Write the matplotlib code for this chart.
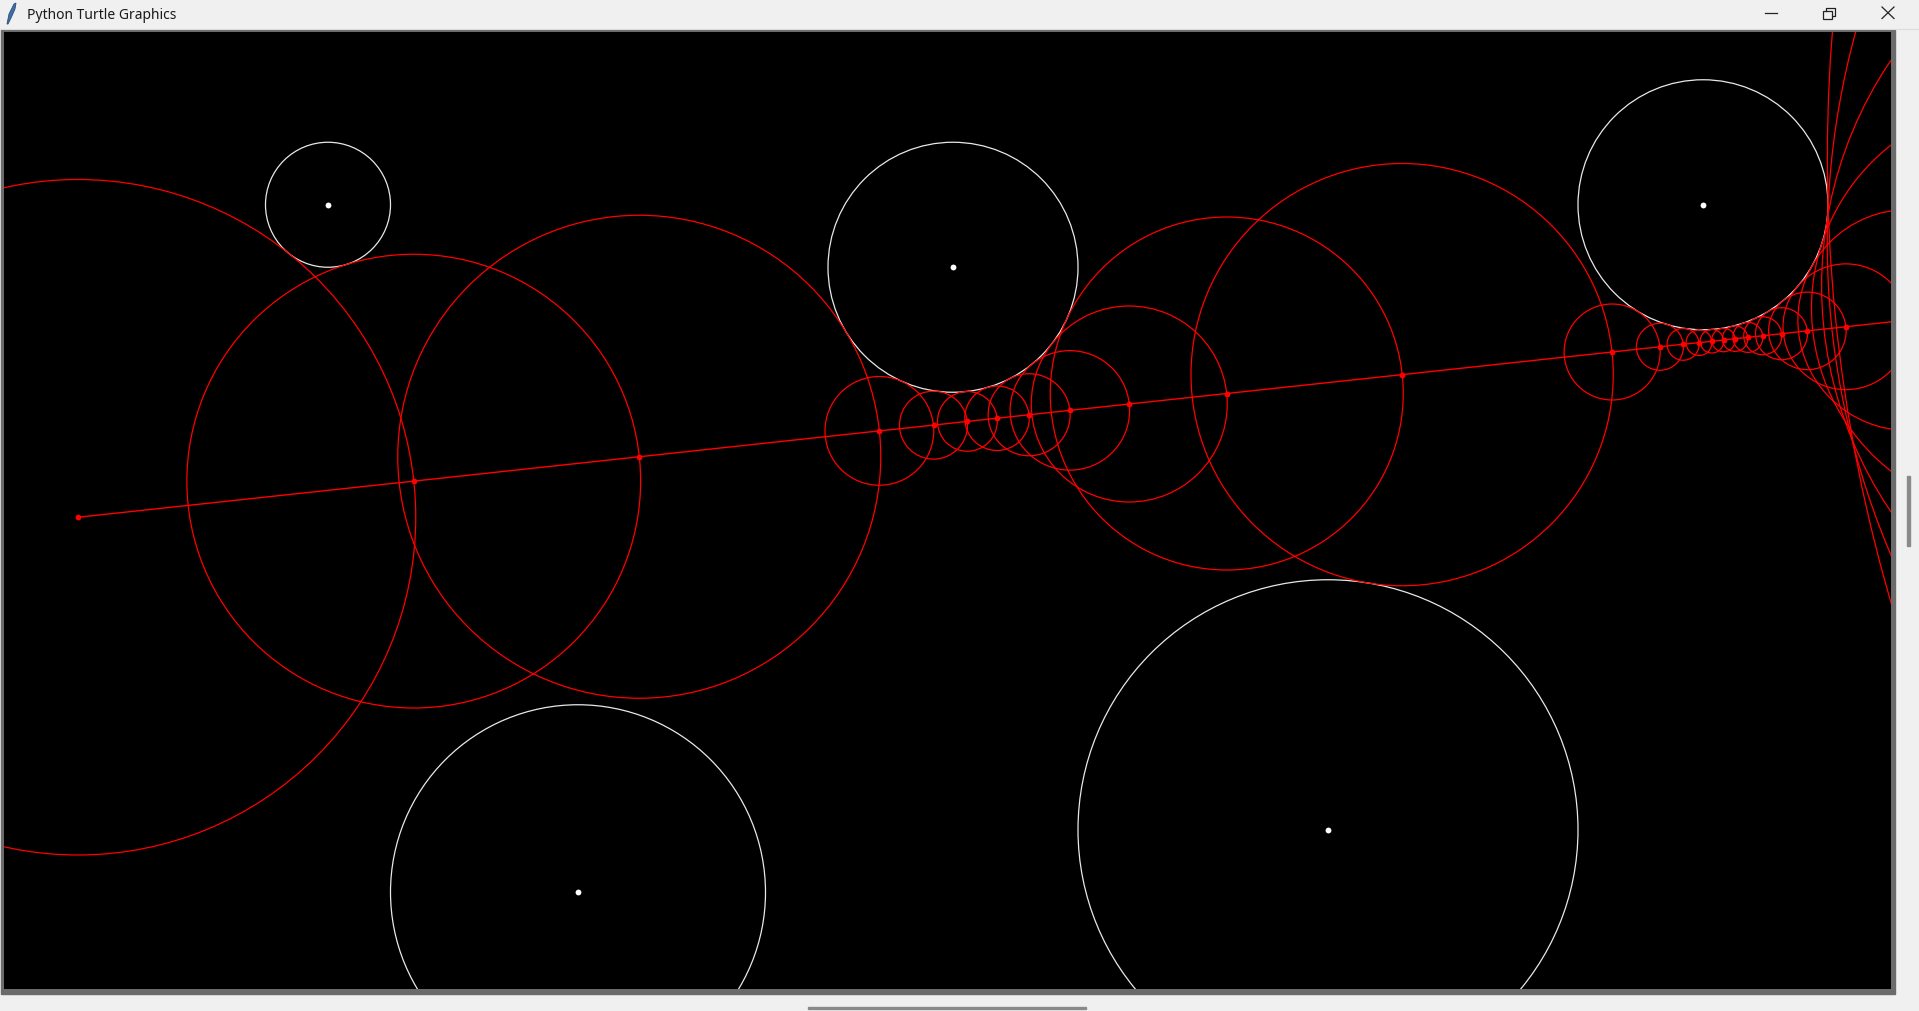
import numpy as np
import matplotlib
matplotlib.use('Agg')
import matplotlib.pyplot as plt
from matplotlib.patches import Circle, Rectangle, Polygon

W, H = 1919, 1012

# white obstacles (turtle units)
obs_x = [-500, 0, 600, -300, 300]
obs_y = [250, 200, 250, -300, -250]
obs_r = [50, 100, 100, 150, 200]

# ray-march steps: centre of each red circle and its radius
step_x = [-700.0, -431.4, -251.0, -58.9, -15.6, 11.5, 35.2, 60.9, 93.5, 141.0,
          219.0, 359.3, 527.3, 565.5, 584.1, 596.8, 607.1, 616.4, 625.7, 635.9,
          647.8, 662.8, 683.5, 714.3, 764.3, 852.3, 1016.8, 1336.9, 1970.7]
step_y = [0.0, 28.9, 48.4, 69.1, 73.7, 76.7, 79.2, 82.0, 85.5, 90.6,
          99.0, 114.1, 132.2, 136.4, 138.4, 139.7, 140.8, 141.8, 142.9, 143.9,
          145.2, 146.8, 149.1, 152.4, 157.8, 167.3, 185.0, 219.5, 287.8]
step_r = [270.2, 181.5, 193.2, 43.5, 27.2, 23.9, 25.8, 32.8, 47.8, 78.4,
          141.2, 168.9, 38.4, 18.8, 12.8, 10.3, 9.4, 9.4, 10.2, 12.0,
          15.2, 20.8, 31.0, 50.3, 88.4, 165.5, 321.9, 637.5, 1271.2]

fig = plt.figure(figsize=(W / 100, H / 100), dpi=100)

# window chrome, pixel coords
cax = fig.add_axes([0, 0, 1, 1])
cax.set_xlim(0, W)
cax.set_ylim(H, 0)
cax.axis('off')
cax.add_patch(Rectangle((0, 0), W, H, color='#f0f0f0'))
grad = np.linspace(0, 1, 256)[None, :, None]
c1 = np.array([0.933, 0.953, 0.984])
c2 = np.array([0.961, 0.933, 0.969])
cax.imshow(c1 + (c2 - c1) * grad, extent=(0, W, 30, 0), aspect='auto')
cax.plot([0, W], [30, 30], color='#dcdcdc', lw=0.8)
cax.add_patch(Rectangle((1, 30.5), 1894, 964, color='#6b6b6b'))
cax.add_patch(Rectangle((1907, 477), 3, 70, color='#8a8a8a'))
cax.add_patch(Rectangle((808, 1007.5), 278, 2.5, color='#8a8a8a'))
cax.text(27, 15, 'Python Turtle Graphics', fontsize=10, family='Noto Sans',
         va='center', ha='left', color='#1a1a1a')
cax.add_patch(Polygon([[7, 25], [9, 15], [14, 5], [16, 4], [15, 10], [11, 19], [8, 25]],
                      closed=True, facecolor='#3e6fa8', edgecolor='#2b4f7a', lw=0.6))
cax.plot([1765, 1777], [13.5, 13.5], color='#222222', lw=0.9)
cax.add_patch(Rectangle((1823, 11.5), 8.5, 8.5, fill=False, ec='#222222', lw=0.9))
cax.plot([1826, 1826, 1835, 1835, 1832.5], [11.5, 8.5, 8.5, 17, 17], color='#222222', lw=0.9)
cax.plot([1882, 1894], [8, 19.5], color='#222222', lw=0.9)
cax.plot([1882, 1894], [19.5, 8], color='#222222', lw=0.9)

# turtle canvas
ax = fig.add_axes([4 / W, (H - 990) / H, 1887 / W, 957 / H])
ax.set_xlim(-759.2, 750.4)
ax.set_ylim(-377.4, 388.2)
ax.set_facecolor('black')
ax.set_xticks([])
ax.set_yticks([])
for s in ax.spines.values():
    s.set_visible(False)

for ox, oy, orr in zip(obs_x, obs_y, obs_r):
    ax.add_patch(Circle((ox, oy), orr, fill=False, ec='#e8e8e8', lw=0.9))
ax.plot(obs_x, obs_y, 'o', color='white', ms=4.2, mec='none')

for sx, sy, sr in zip(step_x, step_y, step_r):
    ax.add_patch(Circle((sx, sy), sr, fill=False, ec='#ff0000', lw=0.9))
ax.plot(step_x, step_y, color='#ff0000', lw=1.0)
ax.plot(step_x, step_y, 'o', color='#ff0000', ms=4.2, mec='none')

fig.savefig('out.png', dpi=100)
